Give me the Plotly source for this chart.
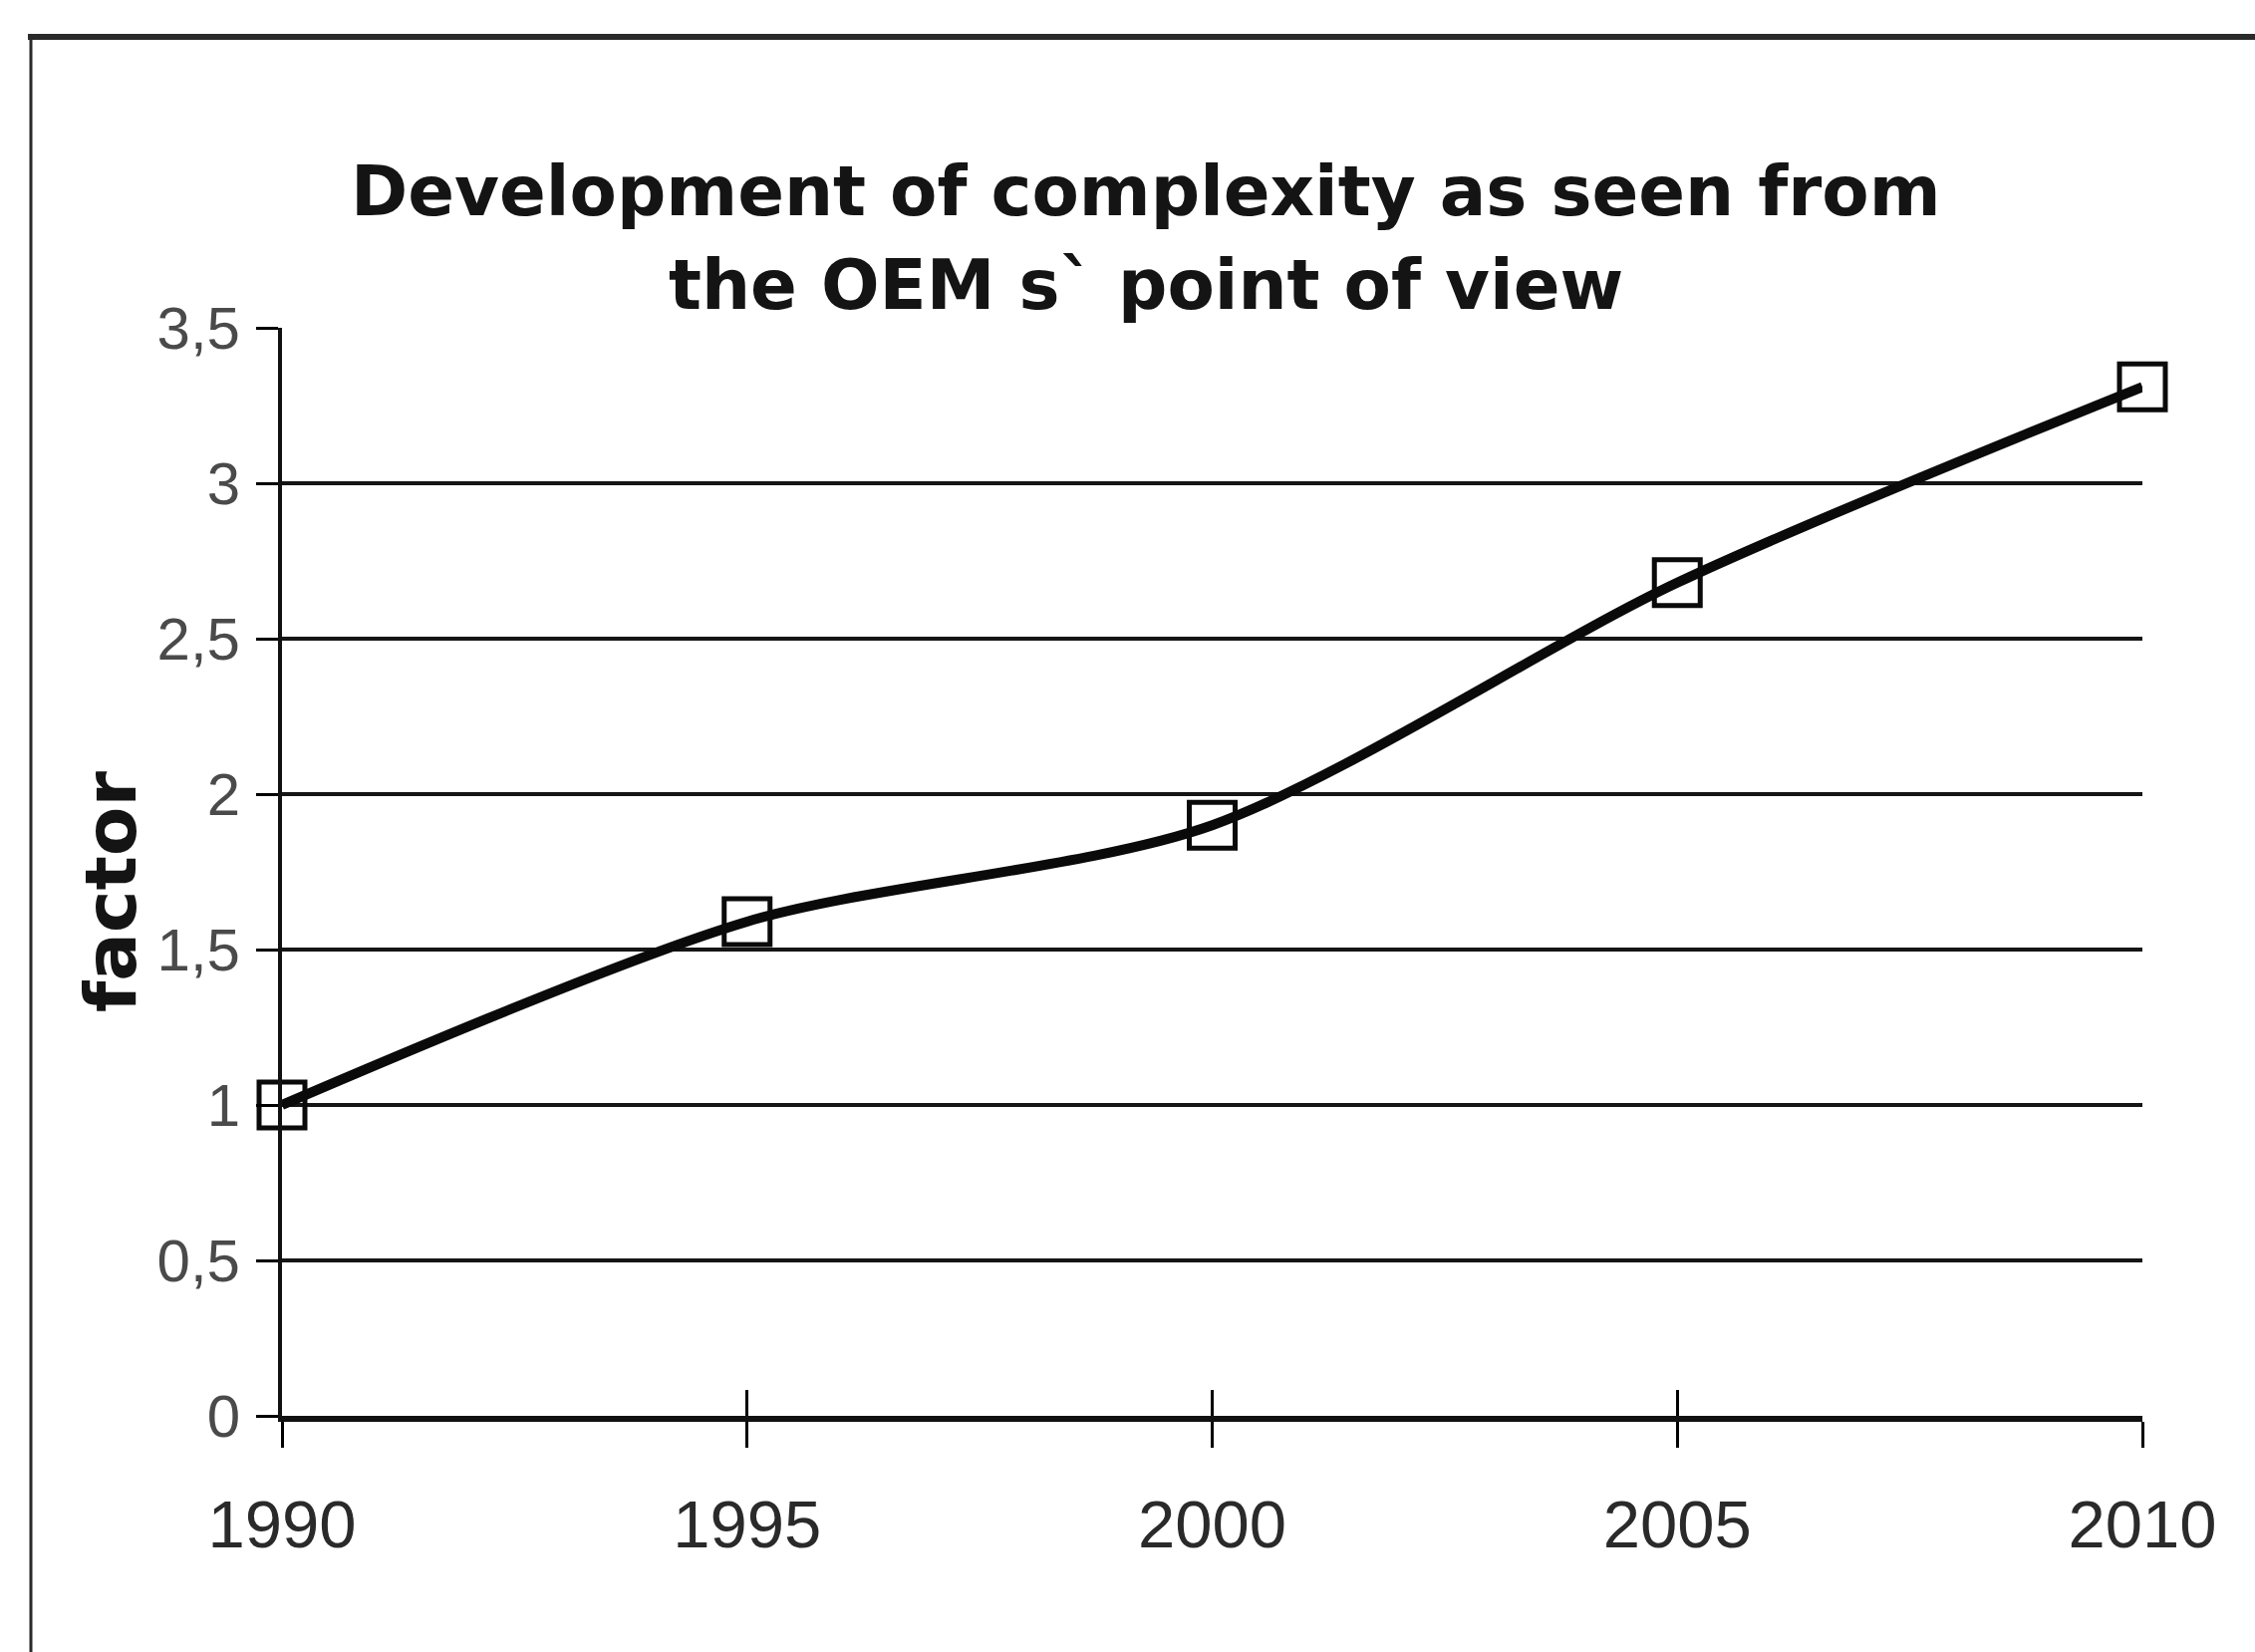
import plotly.graph_objects as go

years = [1990, 1995, 2000, 2005, 2010]
factor = [1.0, 1.59, 1.9, 2.68, 3.31]
y_tickvals = [0, 0.5, 1, 1.5, 2, 2.5, 3, 3.5]
y_ticktext = ["0", "0,5", "1", "1,5", "2", "2,5", "3", "3,5"]
grid_vals = [0.5, 1, 1.5, 2, 2.5, 3]
x_tickvals = [1990, 1995, 2000, 2005, 2010]
x_ticktext = ["1990", "1995", "2000", "2005", "2010"]
title_lines = ["Development of complexity as seen from", "the OEM s` point of view"]
y_title = "factor"

W, H = 2263, 1658
L, R, T, B = 283, 113, 329, 237
pw, ph = W - L - R, H - T - B

def px2paper_x(px):
    return (px - L) / pw

def px2paper_y(py):
    return (H - B - py) / ph

fig = go.Figure()
# base subplot trace (invisible helper carrying the grid axis)
fig.add_trace(go.Scatter(x=years, y=factor, mode="lines", line=dict(width=0),
                         hoverinfo="skip", showlegend=False, xaxis="x", yaxis="y"))
# main series
fig.add_trace(go.Scatter(
    x=years, y=factor, mode="lines+markers",
    line=dict(color="#0a0a0a", width=10, shape="spline", smoothing=0.8),
    marker=dict(symbol="square-open", size=46, color="#0a0a0a", line=dict(width=5, color="#0a0a0a")),
    cliponaxis=False, showlegend=False, xaxis="x2", yaxis="y2"))

fig.update_layout(
    width=W, height=H,
    margin=dict(l=L, r=R, t=T, b=B, pad=0),
    paper_bgcolor="white", plot_bgcolor="white",
    xaxis=dict(range=[1990, 2010], tickvals=x_tickvals, ticktext=x_ticktext,
               ticks="outside", ticklen=26, tickwidth=3, tickcolor="black",
               showline=True, linecolor="#111111", linewidth=6,
               showgrid=False, zeroline=False,
               tickfont=dict(family="Liberation Sans, Arial", size=67, color="#2a2a2a"),
               ticklabelstandoff=20),
    yaxis=dict(range=[0, 3.5], tickvals=grid_vals, showticklabels=False, ticks="",
               showgrid=True, gridcolor="#151515", gridwidth=4,
               showline=False, zeroline=False),
    xaxis2=dict(range=[1990, 2010], overlaying="x", anchor="y2", side="bottom",
                tickvals=x_tickvals, ticks="inside", ticklen=26, tickwidth=3,
                tickcolor="black", showticklabels=False, showline=False,
                showgrid=False, zeroline=False),
    yaxis2=dict(range=[0, 3.5], overlaying="y", anchor="x2", side="left",
                tickvals=y_tickvals, ticktext=y_ticktext,
                ticks="outside", ticklen=22, tickwidth=3, tickcolor="black",
                showline=True, linecolor="#111111", linewidth=4,
                showgrid=False, zeroline=False,
                tickfont=dict(family="Liberation Sans, Arial", size=60, color="#4a4a4a"),
                ticklabelstandoff=4),
    showlegend=False,
)

annotations = []
for txt, py in zip(title_lines, [192, 286]):
    annotations.append(dict(text=f"<b>{txt}</b>", xref="paper", yref="paper",
                            x=px2paper_x(1150), y=px2paper_y(py),
                            xanchor="center", yanchor="middle", showarrow=False,
                            font=dict(family="DejaVu Sans", size=69, color="#141414")))
annotations.append(dict(text=f"<b>{y_title}</b>", xref="paper", yref="paper",
                        x=px2paper_x(111), y=px2paper_y(895), textangle=-90,
                        xanchor="center", yanchor="middle", showarrow=False,
                        font=dict(family="DejaVu Sans", size=72, color="#141414")))
fig.update_layout(annotations=annotations)

# outer frame: top and left edges visible
fig.add_shape(type="line", xref="paper", yref="paper",
              x0=px2paper_x(28), x1=px2paper_x(2300),
              y0=px2paper_y(37), y1=px2paper_y(37),
              line=dict(color="#2a2a2a", width=6), layer="below")
fig.add_shape(type="line", xref="paper", yref="paper",
              x0=px2paper_x(31), x1=px2paper_x(31),
              y0=px2paper_y(34), y1=px2paper_y(1700),
              line=dict(color="#2a2a2a", width=3), layer="below")

fig.write_html("out.html")
